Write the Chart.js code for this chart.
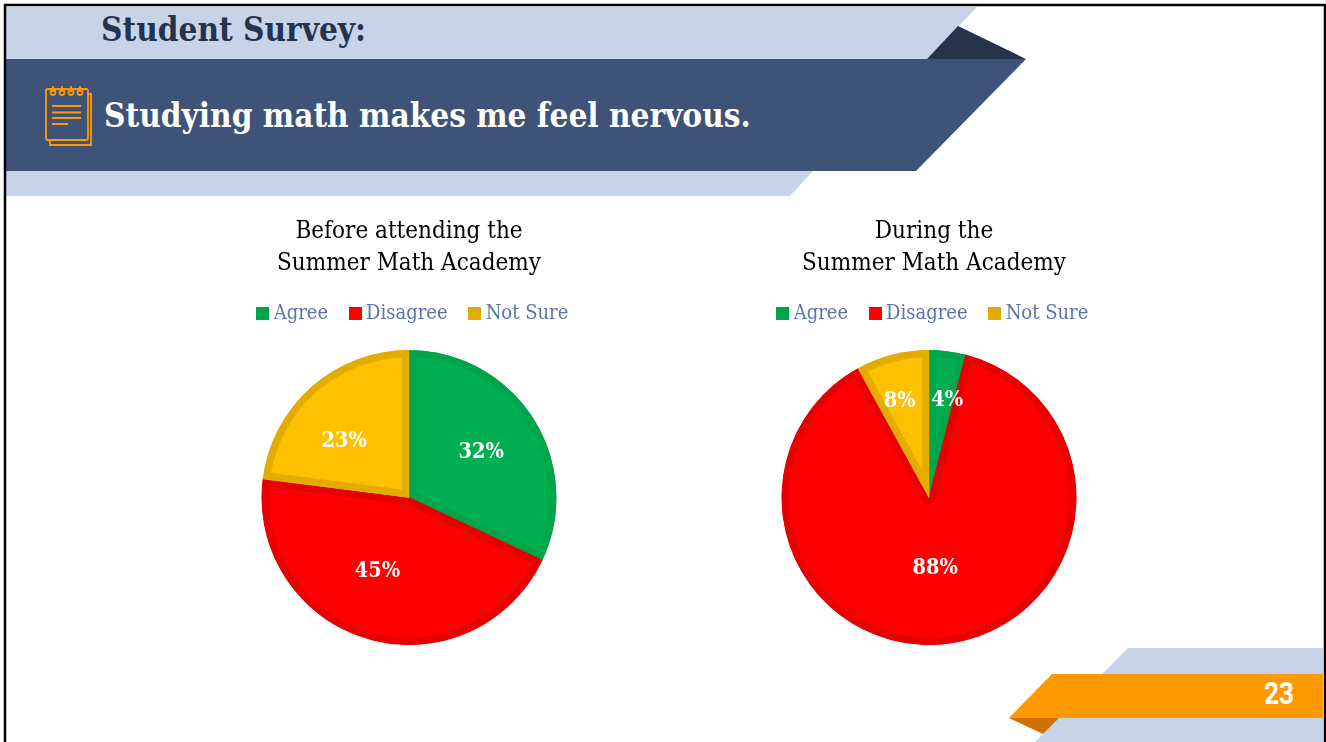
<!DOCTYPE html>
<html>
<head>
<meta charset="utf-8">
<title>Student Survey</title>
<script src="https://cdn.jsdelivr.net/npm/chart.js@4"></script>
<style>
  html, body { margin: 0; padding: 0; background: #fff; }
  #slide { position: relative; width: 1326px; height: 742px; overflow: hidden; font-family: "DejaVu Serif Condensed", "Liberation Serif", serif; }
  #art { position: absolute; left: 0; top: 0; }
  .heading { position: absolute; font-weight: bold; white-space: nowrap; }
  #survey { left: 101px; top: 10px; font-size: 33px; color: #26334d; }
  #question { left: 104px; top: 96px; font-size: 33px; color: #fff; }
  #pageNo { position: absolute; left: 1264px; top: 674px; font: bold 32px Roboto, sans-serif; color: #fff; transform: scaleX(0.82); transform-origin: left top; }
  canvas { position: absolute; }
  #beforeChart { left: 159px; top: 210px; }
  #duringChart { left: 684px; top: 210px; }
</style>
</head>
<body>
<div id="slide">
  <svg id="art" width="1326" height="742">
    <!-- header bands -->
    <polygon points="6,7 977,7 927,59 6,59" fill="#c7d4e8"/>
    <polygon points="927,59 958,26 1026,59" fill="#26334d"/>
    <polygon points="6,171 813,171 790,196 6,196" fill="#c7d4e8"/>
    <polygon points="6,59 1026,59 916,171 6,171" fill="#3f5277"/>
    <!-- notepad icon -->
    <g fill="none" stroke="#ff9900" stroke-width="1.800">
      <rect x="46" y="89" width="42" height="51" rx="2"/>
      <path d="M89,94 h2 v51 h-41 v-4"/>
      <circle cx="53" cy="92.500" r="2.500"/><circle cx="62" cy="92.500" r="2.500"/>
      <circle cx="71" cy="92.500" r="2.500"/><circle cx="80" cy="92.500" r="2.500"/>
      <path d="M53,86 v6 M62,86 v6 M71,86 v6 M80,86 v6"/>
      <path d="M52,106 h29 M52,112.500 h29 M52,118 h29 M52,124 h16"/>
    </g>
    <!-- footer bands -->
    <polygon points="1128,648 1323,648 1323,742 1035,742" fill="#c7d4e8"/>
    <polygon points="1009,718 1059,718 1043,734" fill="#d07000"/>
    <polygon points="1052,674 1323,674 1323,718 1009,718" fill="#ff9900"/>
    <!-- slide frame -->
    <path d="M5,742 V5 H1325 V742" fill="none" stroke="#000" stroke-width="2.500"/>
  </svg>
  <div id="survey" class="heading">Student Survey:</div>
  <div id="question" class="heading">Studying math makes me feel nervous.</div>
  <div id="pageNo">23</div>
  <canvas id="beforeChart" width="500" height="440"></canvas>
  <canvas id="duringChart" width="500" height="440"></canvas>
</div>

<script>
const categories = ["Agree", "Disagree", "Not Sure"];
const beforeValues = [32, 45, 23];
const duringValues = [4, 88, 8];
const beforeTitle = ["Before attending the", "Summer Math Academy"];
const duringTitle = ["During the", "Summer Math Academy"];

const sliceFill = ["#00b050", "#ff0000", "#ffc000"];
const sliceEdge = ["#00a44a", "#e60000", "#e2ac00"];
const swatchFill = ["#00a44a", "#ff0000", "#e2ac00"];
const serif = "'DejaVu Serif Condensed', 'Liberation Serif', serif";

// small square used as legend key, chart.js keeps a fixed gap otherwise
function makeSwatch(color){
    const c = document.createElement("canvas");
    c.width = 13;
    c.height = 13;
    const g = c.getContext("2d");
    g.fillStyle = color;
    g.fillRect(0, 0, 13, 13);
    return c;
}

// nudges legend and pie inside the canvas after chart.js has laid them out
const boxTweak = {
    id: "boxTweak",
    afterLayout(chart, args, opts){
        chart.chartArea.left += opts.pieX;
        chart.chartArea.right += opts.pieX;
        chart.chartArea.top += opts.pieTop;
        chart.chartArea.height -= opts.pieTop;
        chart.legend.left += opts.legendX * 2;
        chart.legend.top -= 2;
    }
};

// percent labels on the slices
const sliceLabels = {
    id: "sliceLabels",
    afterDatasetsDraw(chart, args, opts){
        const ctx = chart.ctx;
        const arcs = chart.getDatasetMeta(0).data;
        ctx.save();
        ctx.font = "bold 21.500px " + serif;
        ctx.fillStyle = "#fff";
        ctx.textAlign = "center";
        ctx.textBaseline = "middle";
        arcs.forEach((arc, i) => {
            const p = arc.tooltipPosition();
            ctx.fillText(chart.data.datasets[0].data[i] + "%", p.x + opts.nudge[i][0], p.y + opts.nudge[i][1]);
        });
        ctx.restore();
    }
};

function makePie(id, values, title, tweak, nudge){
    return new Chart(document.getElementById(id), {
        type: "pie",
        data: {
            labels: categories,
            datasets: [{
                data: values,
                backgroundColor: sliceFill,
                borderColor: sliceEdge,
                borderWidth: 7,
                borderAlign: "inner"
            }]
        },
        options: {
            responsive: false,
            animation: false,
            layout: { padding: { bottom: 5 } },
            plugins: {
                title: {
                    display: true,
                    text: title,
                    color: "#000",
                    font: { family: serif, size: 24, weight: "normal", lineHeight: 1.333 },
                    padding: { top: 6, bottom: 0 }
                },
                legend: {
                    position: "top",
                    labels: {
                        color: "#5b75a6",
                        font: { family: serif, size: 20 },
                        usePointStyle: true,
                        pointStyleWidth: 2,
                        padding: 26,
                        generateLabels(chart){
                            return categories.map((name, i) => ({
                                text: name,
                                fontColor: "#5b75a6",
                                pointStyle: makeSwatch(swatchFill[i]),
                                lineWidth: 0,
                                index: i
                            }));
                        }
                    }
                },
                tooltip: { enabled: false },
                boxTweak: tweak,
                sliceLabels: { nudge: nudge }
            }
        },
        plugins: [boxTweak, sliceLabels]
    });
}

makePie("beforeChart", beforeValues, beforeTitle, { pieX: 0, pieTop: 14, legendX: 6 }, [[10, -6], [-11, 3], [-16, -1]]);
makePie("duringChart", duringValues, duringTitle, { pieX: -5, pieTop: 14, legendX: 1 }, [[9, -24], [-3, -2], [-11, -25]]);
</script>
</body>
</html>
